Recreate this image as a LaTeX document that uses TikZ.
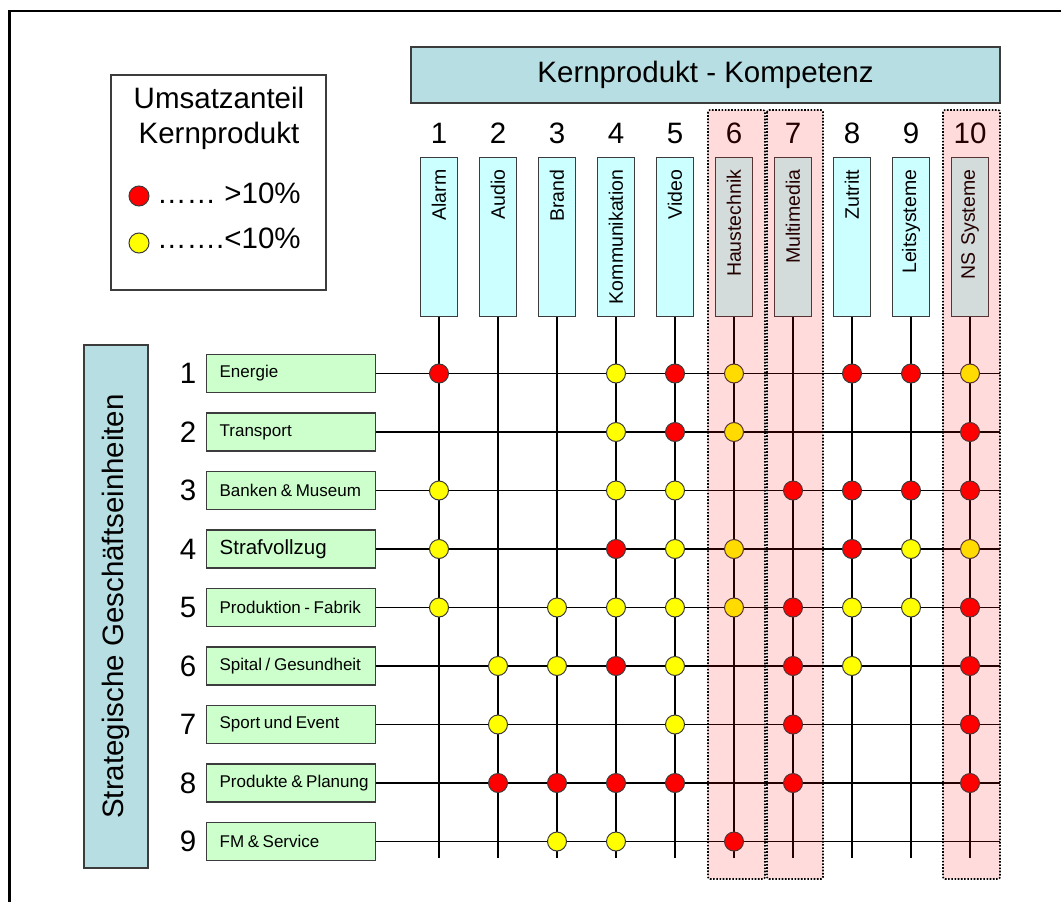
\documentclass[tikz,border=0pt]{standalone}
\usepackage{fontspec}
\setmainfont{Liberation Sans}
\definecolor{tealbox}{RGB}{183,222,226}
\definecolor{cyanbox}{RGB}{204,255,255}
\definecolor{greenbox}{RGB}{204,255,204}
\definecolor{boxline}{RGB}{60,60,60}
\definecolor{dotred}{RGB}{255,0,0}
\definecolor{dotyellow}{RGB}{255,255,0}
\newcommand{\tightlabel}[1]{\spaceskip=0.21em\relax\mbox{#1}}
\tikzset{
  big/.style={font=\fontsize{29.5}{35}\selectfont},
  headbox/.style={draw=boxline, line width=1.5pt, fill=tealbox, inner sep=0pt, big},
  colbox/.style={draw=boxline, line width=1.3pt, fill=cyanbox, rotate=90, anchor=east,
    minimum height=37pt, inner xsep=12pt, inner ysep=0pt, text width=135pt, align=right,
    font=\fontsize{19.5}{22}\selectfont},
  rowbox/.style={draw=boxline, line width=1.3pt, fill=greenbox, anchor=west,
    minimum width=169pt, minimum height=38pt, inner xsep=13pt, inner ysep=0pt,
    text width=143pt, align=left},
  gridline/.style={line width=1.3pt, black},
  dotR/.style={circle, draw=boxline, line width=1pt, fill=dotred, minimum size=19pt, inner sep=0pt},
  dotY/.style={circle, draw=boxline, line width=1pt, fill=dotyellow, minimum size=19pt, inner sep=0pt},
  hlbox/.style={fill=red, fill opacity=0.14, draw=black, line width=1.6pt,
    dash pattern=on 1.6pt off 1.6pt, rounded corners=2pt},
}
\begin{document}
\begin{tikzpicture}[x=1pt, y=-1pt]
\useasboundingbox (0,0) rectangle (1061,902);

% slide frame
\draw[line width=2.5pt] (9.5,902) -- (9.5,11) -- (1061,11);

% legend
\node[draw=boxline, line width=1.3pt, minimum width=215pt, minimum height=215pt, inner sep=0pt] (legend) at (218.5,182.5) {};
\node[big, align=center] (legtitle) at (219,118) {Umsatzanteil\\Kernprodukt};
\node[dotR, minimum size=20pt] (legred) at (139,196) {};
\node[dotY, minimum size=20pt] (legyellow) at (139,243) {};
\node[big, anchor=base west, inner sep=0pt] (legredtxt) at (157,203) {…… >10\%};
\node[big, anchor=base west, inner sep=0pt] (legyellowtxt) at (157,248) {…….<10\%};

% headers
\node[headbox, minimum width=589pt, minimum height=56pt] (core) at (705.5,75) {Kernprodukt - Kompetenz};
\node[headbox, rotate=90, minimum width=523pt, minimum height=64pt] (units) at (116,606.5) {Strategische Geschäftseinheiten};

% line end points
\coordinate (vend) at (0,858);
\coordinate (hend) at (1000,0);

% core product columns
\foreach \k/\name in {1/{Alarm}, 2/{Audio}, 3/{Brand}, 4/{Kommunikation}, 5/{Video},
    6/{Haustechnik}, 7/{Multimedia}, 8/{Zutritt}, 9/{Leitsysteme}, 10/{NS Systeme}} {
  \pgfmathsetmacro{\cx}{439+59*(\k-1)}
  \node[big] (cn\k) at (\cx,133) {\k};
  \node[colbox] (c\k) at (\cx,157) {\name};
}

% business units
\foreach \j/\name/\fs in {1/{Energie}/17, 2/{Transport}/17, 3/{Banken \& Museum}/17,
    4/{Strafvollzug}/20.5, 5/{Produktion - Fabrik}/17, 6/{Spital / Gesundheit}/17,
    7/{Sport und Event}/17, 8/{Produkte \& Planung}/17, 9/{FM \& Service}/17} {
  \pgfmathsetmacro{\ry}{373.5+58.5*(\j-1)}
  \node[big] (rn\j) at (188,\ry) {\j};
  \node[rowbox, font=\fontsize{\fs}{\fs}\selectfont] (r\j) at (206,\ry) {\tightlabel{\name}};
}

% grid lines
\foreach \k in {1,...,10}
  \draw[gridline] (c\k.west) -- (c\k.west |- vend);
\foreach \j in {1,...,9}
  \draw[gridline] (r\j.east) -- (r\j.east -| hend);

% revenue share markers: row/column/colour
\foreach \j/\k/\t in {
    1/1/R, 1/4/Y, 1/5/R, 1/6/Y, 1/8/R, 1/9/R, 1/10/Y,
    2/4/Y, 2/5/R, 2/6/Y, 2/10/R,
    3/1/Y, 3/4/Y, 3/5/Y, 3/7/R, 3/8/R, 3/9/R, 3/10/R,
    4/1/Y, 4/4/R, 4/5/Y, 4/6/Y, 4/8/R, 4/9/Y, 4/10/Y,
    5/1/Y, 5/3/Y, 5/4/Y, 5/5/Y, 5/6/Y, 5/7/R, 5/8/Y, 5/9/Y, 5/10/R,
    6/2/Y, 6/3/Y, 6/4/R, 6/5/Y, 6/7/R, 6/8/Y, 6/10/R,
    7/2/Y, 7/5/Y, 7/7/R, 7/10/R,
    8/2/R, 8/3/R, 8/4/R, 8/5/R, 8/7/R, 8/10/R,
    9/3/Y, 9/4/Y, 9/6/R} {
  \node[dot\t] (d\j-\k) at (c\k.west |- r\j.east) {};
}

% highlighted core products
\draw[hlbox] (708,110) rectangle (765,879);
\draw[hlbox] (767,110) rectangle (823,879);
\draw[hlbox] (943,110) rectangle (1000,879);
\end{tikzpicture}
\end{document}
